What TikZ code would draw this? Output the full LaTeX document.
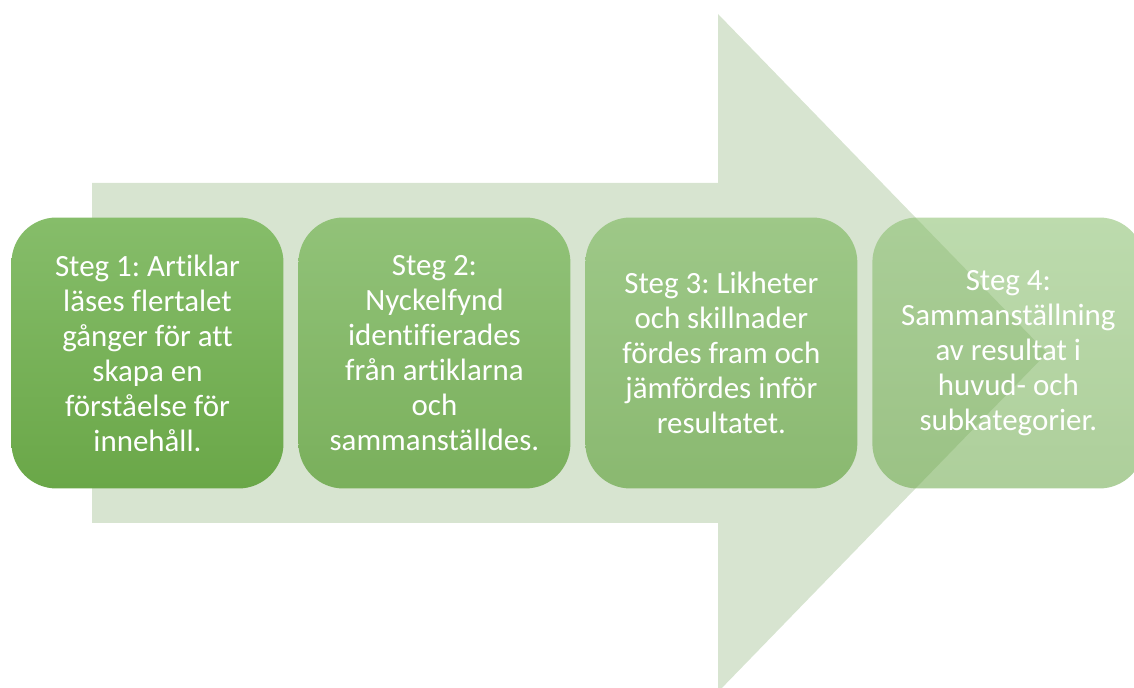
\documentclass[tikz,border=0pt]{standalone}
\usepackage{fontspec}
\setmainfont{Carlito}[Ligatures=NoCommon]
\usetikzlibrary{positioning}
\definecolor{arrowgreen}{RGB}{215,228,208}
\definecolor{stegtop}{RGB}{134,189,106}
\definecolor{stegbottom}{RGB}{106,167,72}
\tikzset{
  stegbox/.style={rounded corners=0.9cm, minimum width=5.44cm, minimum height=5.42cm, inner sep=0pt, outer sep=0pt,
    top color=stegtop, bottom color=stegbottom, text=white, text opacity=1, align=center,
    font=\fontsize{17.6}{19.9}\selectfont\frenchspacing},
}
\begin{document}
\begin{tikzpicture}[x=0.02cm, y=-0.02cm, node distance=0.3cm]
      \useasboundingbox (0,0) rectangle (1134,688);
      \fill[arrowgreen] (92,183) -- (718,183) -- (718,14) -- (1047,353) -- (718,692) -- (718,523) -- (92,523) -- cycle;
      \node[stegbox] (steg1) at (147.5,353) {Steg 1: Artiklar\\läses flertalet\\gånger för att\\skapa en\\förståelse för\\innehåll.};
      \node[stegbox, fill opacity=0.85, right=of steg1] (steg2) {Steg 2:\\Nyckelfynd\\identifierades\\från artiklarna\\och\\sammanställdes.};
      \node[stegbox, fill opacity=0.7, right=of steg2] (steg3) {Steg 3: Likheter\\och skillnader\\fördes fram och\\jämfördes inför\\resultatet.};
      \node[stegbox, fill opacity=0.55, right=of steg3] (steg4) {Steg 4:\\Sammanställning\\av resultat i\\huvud- och\\subkategorier.};
    \end{tikzpicture}
\end{document}
